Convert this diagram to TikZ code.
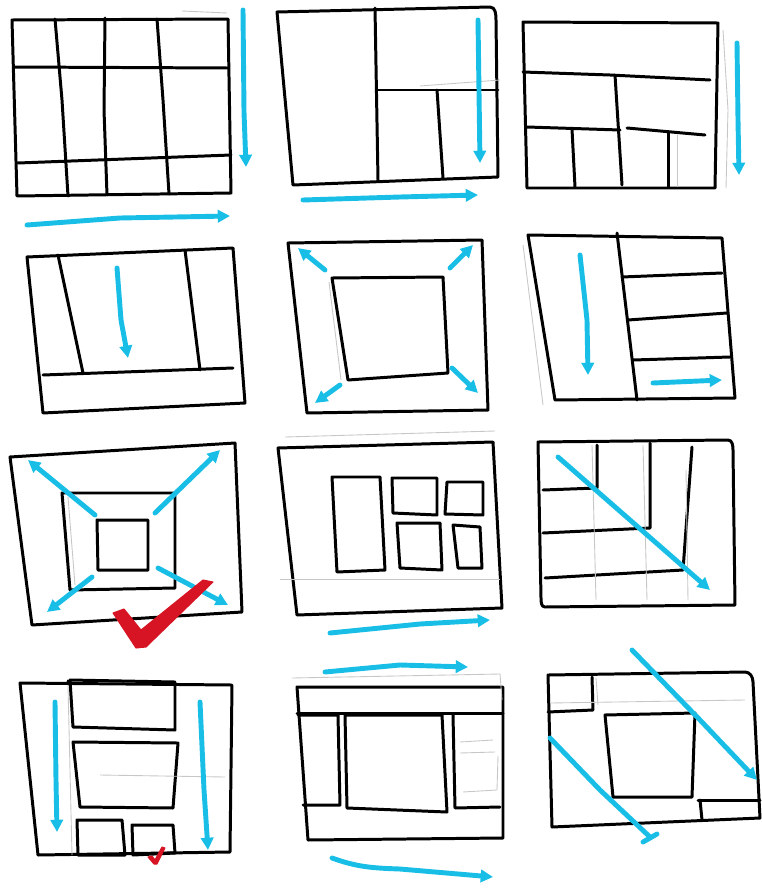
\documentclass[tikz,border=0pt]{standalone}
\usepackage{xcolor}
\usepackage{tikz}
\usetikzlibrary{arrows.meta}

\definecolor{marker}{RGB}{25,190,230}
\definecolor{tick}{RGB}{215,20,35}

\begin{document}
\begin{tikzpicture}[
    x=0.02cm, y=-0.02cm,
    ink/.style={draw=black, line width=1.7pt, line join=round, line cap=round},
    pencil/.style={draw=black!22, line width=0.5pt},
    flow/.style={draw=marker, line width=2.8pt, line cap=round, -{Triangle[length=7pt,width=7pt]}},
    stop/.style={draw=marker, line width=2.8pt, line cap=round},
    check/.style={fill=tick, draw=tick, line width=0.6pt, line join=round},
]
    \useasboundingbox (0,0) rectangle (761,889);

    % Row 1, left: grid of 4 columns
    \draw[ink] (12,20) -- (228,19) -- (231,193) -- (17,196) -- cycle;
    \draw[ink] (14,67) -- (228,68);
    \draw[ink] (18,163) -- (231,155);
    \draw[ink] (55,19) -- (62,100) -- (68,196);
    \draw[ink] (105,18) -- (104,110) -- (107,195);
    \draw[ink] (157,19) -- (163,100) -- (169,194);
    \draw[pencil] (182,11) -- (227,13);
    \draw[flow] (243,10) -- (244,112) -- (246,167);
    \draw[flow] (27,225) -- (120,218) -- (230,216);

    % Row 1, middle: big left block, split right
    \draw[ink] (277,12) -- (490,7) to[out=0,in=90] (496,20) -- (498,177) -- (293,185) -- cycle;
    \draw[ink] (375,8) -- (378,180);
    \draw[ink] (378,90) -- (498,90);
    \draw[ink] (437,90) -- (443,178);
    \draw[pencil] (420,86) -- (500,80);
    \draw[flow] (478,20) -- (480,163);
    \draw[flow] (303,200) -- (400,197) -- (478,195);

    % Row 1, right: bands and cells
    \draw[ink] (523,22) -- (718,23) -- (715,188) -- (527,188) -- cycle;
    \draw[ink] (523,72) -- (610,75) -- (710,80);
    \draw[ink] (615,75) -- (622,185);
    \draw[ink] (527,127) -- (620,130);
    \draw[ink] (627,128) -- (705,135);
    \draw[ink] (572,129) -- (575,187);
    \draw[ink] (668,133) -- (668,187);
    \draw[pencil] (677,135) -- (677,187);
    \draw[pencil] (723,30) -- (728,110) -- (726,188);
    \draw[flow] (737,43) -- (738,120) -- (739,175);

    % Row 2, left: two side columns, footer
    \draw[ink] (27,257) -- (233,248) -- (245,403) -- (43,413) -- cycle;
    \draw[ink] (43,375) -- (233,368);
    \draw[ink] (58,255) -- (83,373);
    \draw[ink] (185,250) -- (200,370);
    \draw[flow] (117,268) -- (121,320) -- (128,358);

    % Row 2, middle: centre box growing out
    \draw[ink] (288,243) -- (482,240) -- (488,410) -- (307,413) -- cycle;
    \draw[ink] (332,278) -- (443,277) -- (448,373) -- (348,380) -- cycle;
    \draw[pencil] (329,282) -- (341,380);
    \draw[flow] (325,270) -- (298,248);
    \draw[flow] (450,268) -- (473,245);
    \draw[flow] (340,385) -- (315,403);
    \draw[flow] (452,368) -- (478,393);

    % Row 2, right: column and stacked rows
    \draw[ink] (528,235) -- (722,238) -- (735,398) -- (555,400) -- cycle;
    \draw[ink] (617,233) -- (637,400);
    \draw[ink] (622,277) -- (722,273);
    \draw[ink] (628,320) -- (727,313);
    \draw[ink] (633,360) -- (730,357);
    \draw[pencil] (523,245) -- (543,405);
    \draw[flow] (580,255) -- (587,320) -- (588,375);
    \draw[flow] (653,383) -- (722,380);

    % Row 3, left: nested boxes, chosen one
    \draw[ink] (10,457) -- (235,443) -- (242,612) -- (32,625) -- cycle;
    \draw[ink] (62,493) -- (175,493) -- (175,588) -- (70,590) -- cycle;
    \draw[ink] (97,520) -- (148,520) -- (148,570) -- (98,570) -- cycle;
    \draw[pencil] (68,497) -- (75,585);
    \draw[flow] (95,515) -- (28,460);
    \draw[flow] (155,513) -- (220,450);
    \draw[flow] (92,577) -- (47,612);
    \draw[flow] (158,568) -- (228,605);
    \draw[check] (113,613) -- (124,609) -- (141,630) -- (203,580) -- (213,582)
        -- (146,647) -- (136,648) -- cycle;

    % Row 3, middle: tiles
    \draw[ink] (278,448) -- (493,442) -- (502,608) -- (297,615) -- cycle;
    \draw[ink] (332,477) -- (380,477) -- (385,570) -- (337,572) -- cycle;
    \draw[ink] (392,478) -- (437,478) -- (437,515) -- (393,513) -- cycle;
    \draw[ink] (447,482) -- (483,482) -- (483,515) -- (445,514) -- cycle;
    \draw[ink] (397,523) -- (440,523) -- (442,570) -- (400,568) -- cycle;
    \draw[ink] (453,525) -- (480,527) -- (482,568) -- (458,568) -- cycle;
    \draw[pencil] (280,579) -- (500,579);
    \draw[pencil] (285,437) -- (495,431);
    \draw[flow] (330,633) -- (420,624) -- (490,620);

    % Row 3, right: corner steps
    \draw[ink] (538,442) -- (728,440) to[out=0,in=90] (733,450) -- (735,605)
        -- (545,607) to[out=180,in=-90] (541,598) -- cycle;
    \draw[ink] (543,490) -- (597,488) -- (597,445);
    \draw[ink] (543,533) -- (650,528) -- (650,443);
    \draw[ink] (545,578) -- (683,570) -- (692,447);
    \draw[pencil] (592,445) -- (596,600);
    \draw[pencil] (643,445) -- (647,600);
    \draw[pencil] (686,470) -- (688,600);
    \draw[flow] (558,457) -- (710,590);

    % Row 4, left: two columns round a centre stack
    \draw[ink] (20,683) -- (232,685) -- (230,852) -- (38,855) -- cycle;
    \draw[ink] (68,681) -- (70,685);
    \draw[ink] (70,680) -- (175,682) -- (175,730) -- (73,727) -- cycle;
    \draw[ink] (73,742) -- (178,743) -- (173,808) -- (80,807) -- cycle;
    \draw[ink] (77,820) -- (122,820) -- (125,855) -- (78,855) -- cycle;
    \draw[ink] (132,825) -- (173,825) -- (175,853) -- (133,855) -- cycle;
    \draw[pencil] (68,685) -- (72,855);
    \draw[pencil] (100,775) -- (225,777);
    \draw[flow] (55,702) -- (56,780) -- (57,832);
    \draw[flow] (200,702) -- (204,790) -- (208,850);
    \draw[check] (148,857) -- (152,856) -- (155,860) -- (162,847) -- (165,848)
        -- (157,864) -- (154,864) -- cycle;

    % Row 4, middle: header, sidebars, footer
    \draw[flow] (325,672) -- (400,665) -- (468,667);
    \draw[ink] (297,687) -- (503,687) -- (503,838) -- (308,840) -- cycle;
    \draw[ink] (297,713) -- (503,713);
    \draw[ink] (298,715) -- (338,715) -- (340,805) -- (303,805);
    \draw[ink] (345,715) -- (442,715) -- (447,812) -- (347,808) -- cycle;
    \draw[ink] (453,715) -- (455,808) -- (500,807);
    \draw[pencil] (460,742) -- (493,740);
    \draw[pencil] (460,753) -- (495,752);
    \draw[pencil] (498,756) -- (497,790) -- (463,792);
    \draw[pencil] (292,678) -- (500,674) -- (502,700);
    \draw[flow] (332,858) to[out=-20,in=178] (400,869) -- (493,877);

    % Row 4, right: diagonal sweep
    \draw[ink] (548,675) -- (745,672) to[out=0,in=90] (753,682) -- (760,818)
        -- (552,827) -- cycle;
    \draw[ink] (548,712) -- (593,710) -- (592,677);
    \draw[ink] (605,715) -- (695,713) -- (692,797) -- (613,797) -- cycle;
    \draw[ink] (698,800) -- (760,800);
    \draw[ink] (700,800) -- (702,820);
    \draw[pencil] (596,678) -- (598,705);
    \draw[pencil] (550,703) -- (745,700);
    \draw[flow] (632,650) -- (700,720) -- (757,780);
    \draw[stop] (550,738) -- (600,790) -- (650,837);
    \draw[stop] (643,842) -- (657,834);
\end{tikzpicture}
\end{document}
